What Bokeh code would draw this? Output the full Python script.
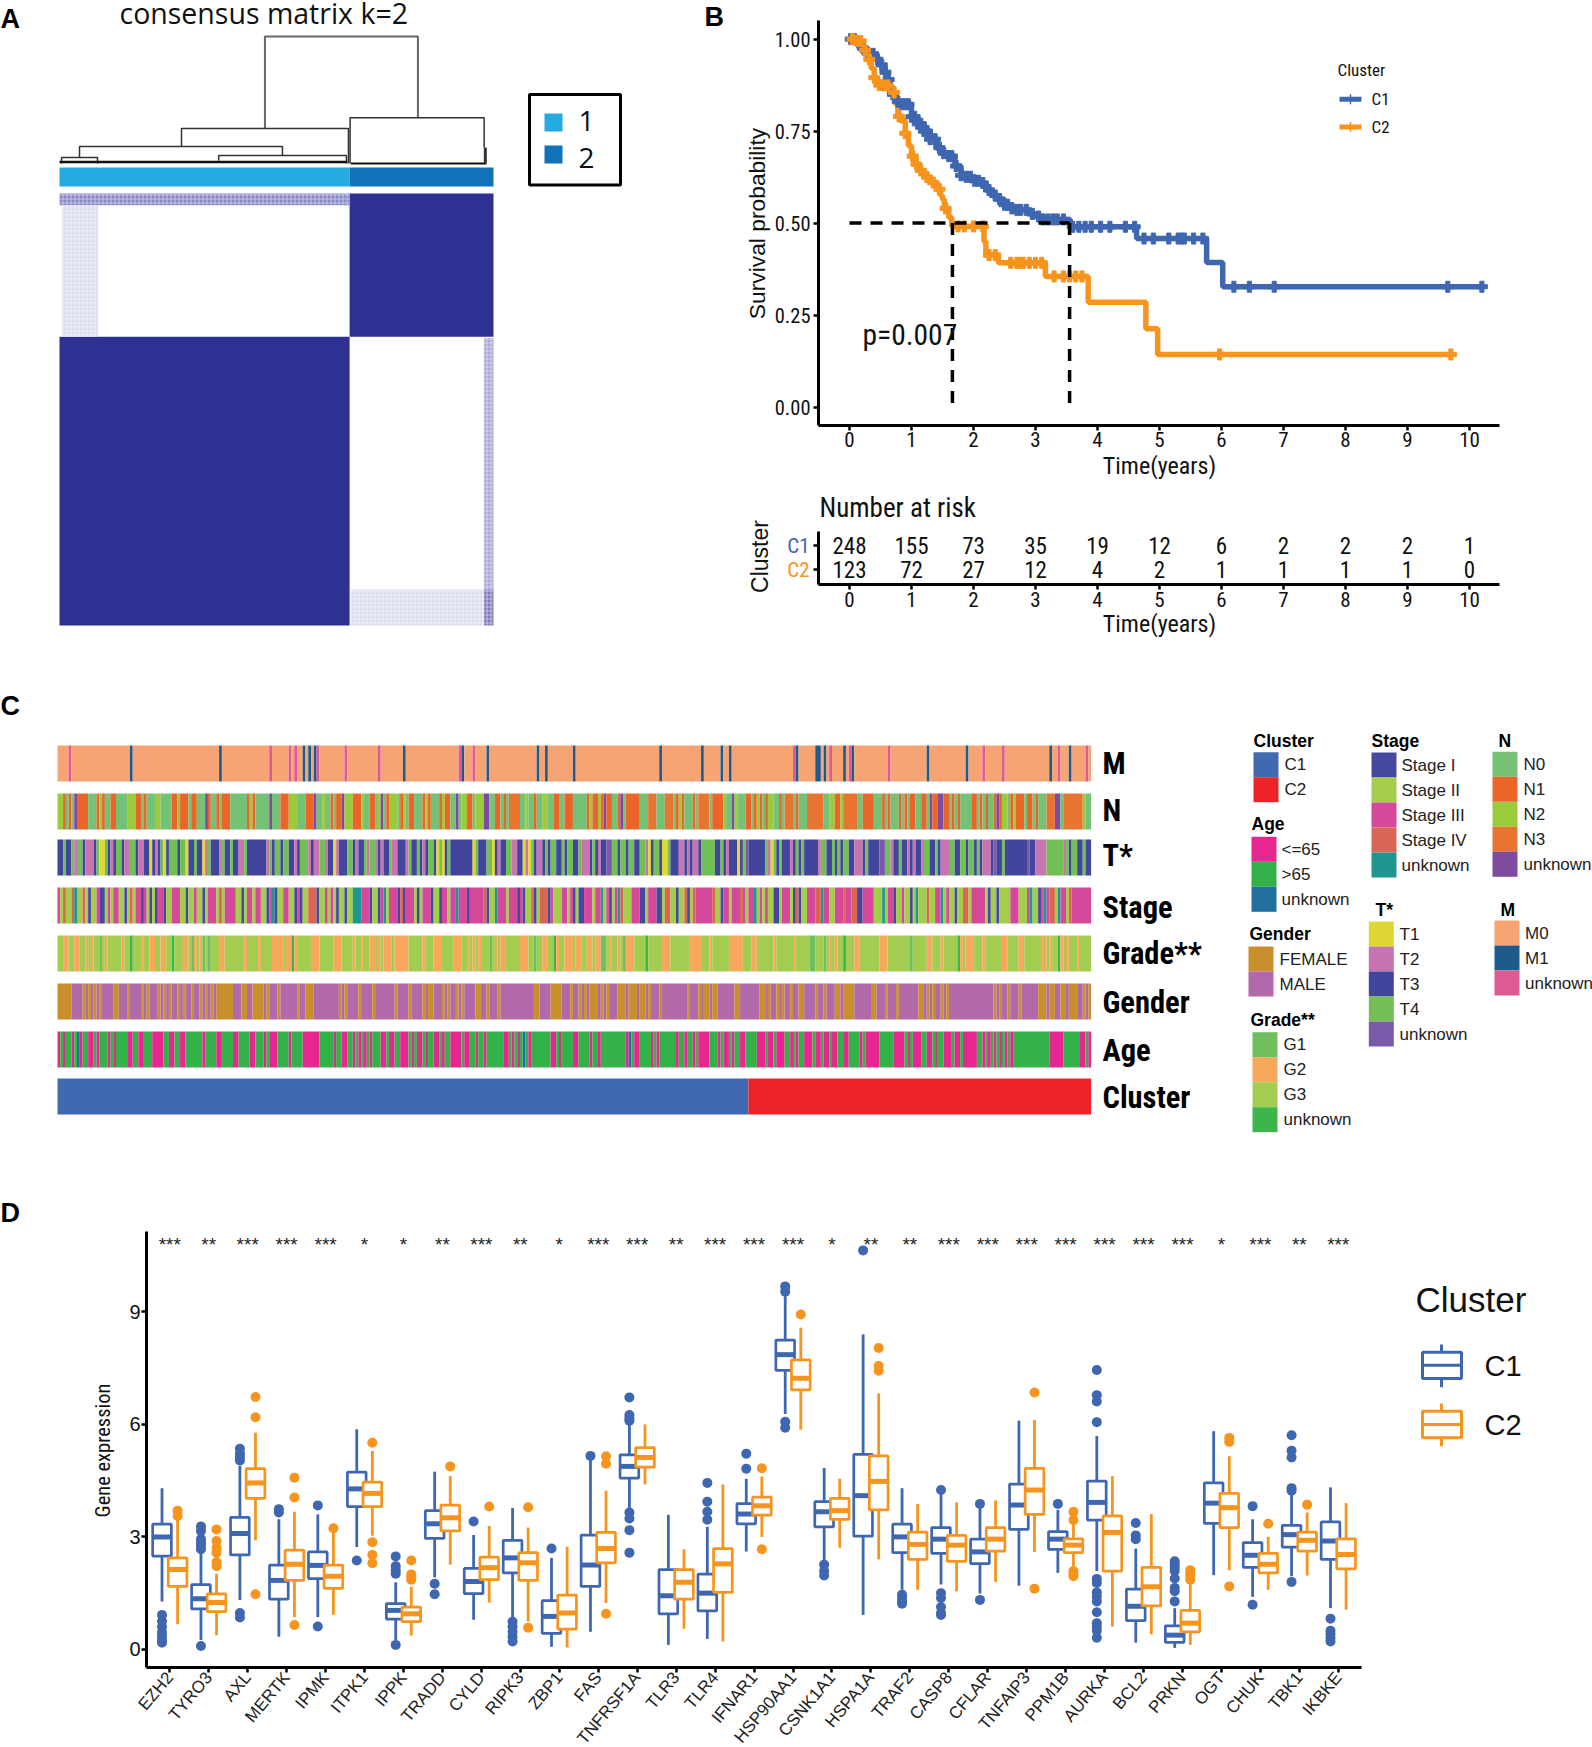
from bokeh.plotting import figure
from bokeh.layouts import column, row
from bokeh.models import Range1d, Label, FixedTicker, NumeralTickFormatter, LinearAxis
from bokeh.embed import file_html
from bokeh.resources import INLINE
import math
import bisect

NARROW = "Roboto Condensed, DejaVu Sans Condensed, Liberation Sans"
SANS = "Liberation Sans"

# ---------- Panel A values ----------
n_c1 = 248
n_c2 = 123
# dendrogram merges: left x, right x (samples), height, left-child height, right-child height
dendro_left = [175.6, 248.4, 104.3, 17.1, 136.1, 1.7]
dendro_right = [306.4, 363.0, 247.0, 190.6, 245.3, 32.5]
dendro_h = [1.00, 0.36, 0.276, 0.134, 0.063, 0.047]
dendro_hl = [0.276, 0.0, 0.134, 0.047, 0.024, 0.0]
dendro_hr = [0.36, 0.126, 0.0, 0.063, 0.0, 0.0]

# ---------- Panel B values ----------
c1_t = [0, .1, .2, .3, .4, .5, .55, .6, .65, .7, .75, .85, 1.0, 1.1, 1.2, 1.3, 1.4, 1.5, 1.6, 1.7, 1.8, 1.85, 2.0, 2.1,
        2.2, 2.3, 2.4, 2.5, 2.6, 2.7, 2.9, 3.0, 3.1, 3.56, 4.63, 5.76, 6.02, 10.2]
c1_s = [1.0, .99, .975, .96, .945, .93, .91, .89, .87, .85, .83, .823, .789, .77, .75, .728, .705, .69, .682, .655, .63,
        .626, .615, .609, .59, .575, .565, .55, .54, .536, .525, .518, .51, .49, .458, .393, .327, .327]
c2_t = [0, .1, .2, .3, .35, .4, .45, .55, .65, .75, .78, .82, .9, .95, 1.0, 1.05, 1.13, 1.2, 1.3, 1.42, 1.47, 1.5, 1.53,
        1.6, 1.65, 2.17, 2.2, 2.22, 2.4, 3.16, 3.85, 4.78, 4.97, 9.7]
c2_s = [1.0, .995, .97, .945, .92, .895, .875, .874, .855, .823, .79, .778, .744, .71, .682, .66, .643, .625, .61, .592,
        .575, .564, .54, .515, .491, .45, .413, .413, .392, .355, .285, .213, .143, .143]
c1_cens = [.02, .08, .15, .22, .3, .38, .45, .52, .58, .63, .7, .78, .85, .9, .95, 1.0, 1.05, 1.1, 1.15, 1.2, 1.25, 1.3,
           1.38, 1.45, 1.52, 1.6, 1.65, 1.72, 1.8, 1.88, 1.95, 2.02, 2.08, 2.15, 2.25, 2.35, 2.42, 2.5, 2.55, 2.62,
           2.7, 2.76, 2.85, 2.95, 3.05, 3.12, 3.2, 3.28, 3.35, 3.45, 3.6, 3.7, 3.8, 3.9, 4.05, 4.2, 4.45, 4.6, 4.75,
           4.9, 5.15, 5.3, 5.35, 5.4, 5.55, 5.7, 6.2, 6.45, 6.85, 9.65, 10.2]
c2_cens = [.05, .12, .18, .25, .32, .4, .48, .55, .62, .72, .8, .9, 1.02, 1.08, 1.15, 1.25, 1.35, 1.45, 1.55, 1.75, 1.85,
           2.0, 2.15, 2.25, 2.35, 2.6, 2.7, 2.75, 2.8, 2.9, 3.0, 3.1, 3.3, 3.45, 3.55, 3.65, 3.75, 5.97, 9.7]
risk_time = list(range(11))
risk_c1 = [248, 155, 73, 35, 19, 12, 6, 2, 2, 2, 1]
risk_c2 = [123, 72, 27, 12, 4, 2, 1, 1, 1, 1, 0]
median_c1 = 3.55
median_c2 = 1.66

# ---------- Panel C values (run lengths, three stretches of samples) ----------
seg_len = [123, 122, 126]
M1_samples = [26, 58, 88, 90, 92, 124, 145, 154, 172, 175, 185, 216, 231, 238, 241, 265, 272, 273, 275, 282, 285, 312,
              326, 356, 363]
M_unk_samples = [4, 76, 83, 85, 93, 103, 115, 144, 149, 264, 277, 284, 298, 332, 339, 359, 369]
N_runs = [
    "l2 o1 g1 o1 g1 u1 o4 g3 o1 l1 o1 g2 o2 g4 l3 o2 g1 o1 g3 l2 g4 o2 l1 o3 g1 o2 g3 u1 o1 g2 o1 g1 o3 g6 o1 l1 o1 g5 u1 g3 o3 l3 g3 o3 u1 g2 l1 g2 o1 g1 o2 u1 l3 o3 l1 g2 o2 g1 l1 u1 g1 o1 l3 g1 o1 g2",
    "o1 l1 g1 o2 g3 o1 l1 o1 g3 o1 l1 o2 g2 u1 g1 l2 o2 g1 l3 u2 g2 o2 g1 o1 g1 r4 g2 l1 g2 o1 g2 l2 g2 o2 g2 o3 g5 o1 l1 o2 l1 o1 u1 o2 g2 o1 u1 g1 o5 g3 r3 g3 r3 g1 o1 l1 o1 g3 o1 g1 r4 g1 o4 l1 g2 u1 l1 g1 l1 o2 g1 o1 g2",
    "g2 o2 g1 o1 l1 o1 g1 o1 l2 g2 o1 g1 r3 g1 o1 g3 r6 g2 l2 o2 l1 r5 g2 o4 g3 o1 g1 o1 g3 o1 g1 o1 g1 o2 g2 o2 g1 u1 o2 u2 o2 g1 o1 g1 o1 g4 o2 g1 o1 g1 o1 g2 o1 u1 o1 l2 g1 o1 l1 o3 g1 o2 g1 o1 g3 r3 u2 g1 r7 l1 g2",
]
T_runs = [
    "b2 g1 b2 g1 p1 g2 b1 p3 b1 g1 y2 g1 b1 p1 b1 g2 b1 p2 g2 b1 p2 b2 y1 b1 p1 b1 g1 y1 b1 g3 b1 g2 y1 b2 g1 b2 y1 p1 g1 b3 p1 g1 b2 g1 b2 p2 g1 b7 p1 g1 b1 g2 b1 g2 b2 p1 b1 g3 p1 b1 p2 g2 p1 b2 y1 p1 b3 g2 b1 p1 b2 g1 p1 g2 p1 b1 p1 b2 g1 p2 b2 p1 g1",
    "b2 p1 g1 b2 g1 b1 p1 b1 g2 b1 y1 g1 y1 b1 g1 b8 y1 g1 b3 g2 y1 b1 p1 b2 g2 p2 b2 y1 p1 y1 g1 b1 p2 b1 g1 b1 g2 b2 g1 b1 g2 b2 g1 p3 b1 g1 b1 p1 b2 u2 g2 b1 g2 b1 g2 b2 g2 p1 y1 b1 g2 b1 y2 g1 b3 p2 b1 p1 b1 p2 b1 g5 b2 g1 b1 p1 b3 y1 b1 g1 p2 b4",
    "b1 g1 u1 b6 g1 p1 y1 g1 b1 g1 b3 p1 b1 g1 b1 g1 b5 p1 g2 b2 g1 b1 g1 b1 g2 b2 p3 b1 g1 b4 u2 g2 p1 b2 g1 b2 p1 b1 p1 b2 p1 g2 b2 g1 b1 p3 g2 b2 g2 b1 g2 b1 g1 b1 p3 b1 u1 b2 g1 b8 u1 b2 p4 g6 p1 g1 b1 g2 b2 g1 b1",
]
Stage_runs = [
    "m1 l1 c1 l2 c1 t1 l2 c1 l1 i1 l2 m1 i2 l1 m1 l1 m2 l2 i1 l1 c1 l1 m2 i1 m1 l1 i1 l1 i1 m2 i1 l2 m3 l2 i1 l2 m1 l2 i1 l1 m3 l1 c1 l1 m4 l2 i1 l1 m2 l1 m2 l2 i1 m1 t1 i1 l2 m2 l2 i1 m1 i1 l2 c3 i1 l2 m1 l1 m1 l1 i1 l2 i1 l2 t3 m3 i1 l2 i1 m1 t1 l1 m3 i1 m1 c1 i1 c1",
    "c1 i1 m3 l1 i1 l1 m3 i1 l2 i1 m2 l1 m2 t1 m3 i1 m5 c1 i1 l2 t1 m3 l1 m3 i1 m1 i1 l2 c1 i1 l1 c3 i1 m1 l3 m2 l1 m1 i1 l1 i2 m3 l1 m2 t1 l1 m1 i1 l1 m1 t1 c1 l3 m3 i2 l1 m3 i2 l1 c2 l2 i1 l2 c1 i1 l1 c1 m6 c1 l2 i1 m2 l1 m3 l1 m2 t1 c1",
    "c1 m1 l1 m2 t1 l1 m1 l1 m1 l2 i2 l1 m3 l1 i1 c1 i1 l2 m3 c2 t1 m2 l2 m3 c1 m2 c2 i2 m4 l3 t1 l1 m2 i1 l2 m1 l2 i1 l1 t1 l3 c1 l2 m2 t1 l1 m1 l2 i1 l2 c2 l1 m5 l1 i1 l2 i1 l2 l2 m3 l3 m1 t1 l2 i1 m1 t1 m1 c2 l1 t1 m2 l1 c1 m8",
]
Grade_runs = [
    "d2 b2 d2 b2 d2 b1 d1 b1 d2 a1 d1 b1 d5 b1 d2 u1 d3 b1 d2 b2 d2 b2 d2 u1 d3 b2 d1 a1 b1 d1 b1 a1 d1 a1 d3 b2 d7 b1 d4 b1 d4 b4 d1 b2 u1 b1 d5 b3 d5 b3 d4 b1 d2 b1 d2 b2 d1 b1 d1 b3 d1 b6",
    "b3 d5 b1 d3 b3 d4 b3 d2 b1 d1 b1 d1 b1 d3 a1 d1 b1 d1 b2 d5 b3 d2 a1 d2 b2 d2 u1 b1 d2 b3 d1 b2 d2 b2 d1 b2 a2 d1 b1 d2 b1 d1 a1 b3 d4 u1 d5 b3 d7 b4 d3 b1 d5 d1 b5 d3 b2 d1",
    "b1 d3 b2 d6 b1 d6 b1 d5 a2 d3 a1 d1 b1 d1 b1 d2 u1 d3 b2 d7 b3 d8 a1 d5 b2 d3 b1 d5 u1 b1 d1 b2 b1 d3 b1 d6 b2 d4 b2 d6 b2 d1 b1 d2 u1 b1 d1 b1 d3 b1 d4",
]
Gender_runs = [
    "f5 m4 f1 m1 f1 m1 f1 m1 f1 m4 f2 m3 f1 m4 f1 m1 f1 m3 f1 m1 f1 m1 f1 m2 f1 m1 f1 m2 f1 m2 f1 m1 f1 m1 f1 m1 f6 m3 f2 m2 f4 m1 f1 m3 f1 m6 f1 m2 f3 m9 f1 m1 f1 m4 f1 m4 f1 m7 f1 m4 f1",
    "m3 f1 m4 f1 m1 f2 m3 f1 m1 f1 m2 f1 m1 f1 m4 f2 m2 f1 m3 f1 m12 f2 m4 f4 m3 f1 m2 f1 m1 f1 m1 f3 m1 f1 m1 f1 m3 f3 m1 f3 m1 f2 m1 f1 m3 f1 m9 f1 m3 f1 m1 f2 m1 f2 m6 f2 m7 f1",
    "m7 f2 m1 f1 m2 f1 m1 f1 m2 f1 m2 f2 m4 f1 m2 f1 m3 f2 m1 f4 m6 f2 m3 f1 m3 f1 m7 f2 m1 f1 m1 f1 m2 f1 m1 f1 m16 f1 m1 f1 m2 f1 m3 f1 m6 f3 m1 f2 m2 f2 m1 f3 m2 f1 m1 f1",
]
Age_runs = [
    "p1 g1 p1 g2 p1 g1 u1 p1 g2 p2 g1 p1 g3 p1 g1 p1 g4 p2 g2 p2 g3 p4 g2 p2 g2 p2 g6 p1 g4 p2 g4 p2 g4 p2 g3 p1 g1 p3 g4 p1 g4 p6 g5 p1 g2 p2 g2 p1 g1 p1 g1 p1 g1 p1 g3 p2 g1 p2 g2 p3 g1",
    "p3 g1 p1 g1 p2 g1 p1 g2 p2 g1 p1 g2 p4 g1 p2 g2 p1 g2 p1 g6 p2 g1 p1 g1 p1 g1 u1 g1 p1 g7 p2 g1 p1 g4 p2 g4 p1 g2 p1 g9 p1 u1 g1 p2 g4 p1 g1 p1 g6 p1 g2 p1 g2 p1 g1 p4 g3 p1 g1 p2 g1 p1 g2 p2 g4 p2",
    "p2 g4 p3 g1 p2 g1 p3 g2 p1 g1 p1 g2 p3 g1 p2 g1 p2 g1 p2 g2 p2 g4 p1 g1 p5 g5 p4 g1 p1 g1 p3 g2 p2 g1 p1 g2 p3 g1 p2 g1 p5 g2 p1 g1 p1 g1 p1 g1 p1 g1 p1 g1 p1 g13 p5 g6 p2 g1 p1",
]
col_M = {"M0": "#f7a475", "M1": "#1e5a8a", "unknown": "#dd5a93"}
col_N = {"g": "#75c176", "o": "#e96628", "l": "#9bca3c", "r": "#e87431", "u": "#7d4ca0"}
col_T = {"y": "#dfd832", "p": "#c874ae", "b": "#41459c", "g": "#72c055", "u": "#7a5aa6"}
col_S = {"i": "#46489e", "l": "#a4cd4c", "m": "#d5499a", "c": "#d96655", "t": "#1f9690"}
col_G = {"a": "#70bf5e", "b": "#f7a85c", "d": "#a3cd50", "u": "#3db54a"}
col_X = {"f": "#c98f2c", "m": "#b169a9"}
col_A = {"p": "#e8268f", "g": "#33b24a", "u": "#21709f"}
col_C = {"C1": "#4169b0", "C2": "#ee2328"}

# ---------- Panel D values ----------
genes = ["EZH2", "TYRO3", "AXL", "MERTK", "IPMK", "ITPK1", "IPPK", "TRADD", "CYLD", "RIPK3", "ZBP1", "FAS", "TNFRSF1A",
         "TLR3", "TLR4", "IFNAR1", "HSP90AA1", "CSNK1A1", "HSPA1A", "TRAF2", "CASP8", "CFLAR", "TNFAIP3", "PPM1B",
         "AURKA", "BCL2", "PRKN", "OGT", "CHUK", "TBK1", "IKBKE"]
signif = ["***", "**", "***", "***", "***", "*", "*", "**", "***", "**", "*", "***", "***", "**", "***", "***", "***",
          "*", "**", "**", "***", "***", "***", "***", "***", "***", "***", "*", "***", "**", "***"]
c1_q1 = [2.49, 1.08, 2.52, 1.34, 1.89, 3.81, .81, 2.96, 1.49, 2.04, .43, 1.68, 4.57, .95, 1.03, 3.35, 7.44, 3.27, 3.02, 2.58, 2.56, 2.29, 3.2, 2.67, 3.45, .77, .19, 3.36, 2.19, 2.73, 2.4]
c1_md = [3.0, 1.35, 3.09, 1.84, 2.24, 4.28, 1.04, 3.35, 1.81, 2.44, .88, 2.25, 4.88, 1.43, 1.5, 3.61, 7.86, 3.67, 4.1, 3.0, 2.94, 2.6, 3.85, 2.94, 3.92, 1.15, .38, 3.9, 2.51, 3.06, 2.89]
c1_q3 = [3.34, 1.73, 3.52, 2.25, 2.6, 4.73, 1.22, 3.7, 2.16, 2.91, 1.3, 3.05, 5.19, 2.13, 2.01, 3.89, 8.25, 3.94, 5.2, 3.34, 3.25, 2.94, 4.41, 3.14, 4.49, 1.61, .63, 4.44, 2.85, 3.31, 3.4]
c1_lo = [1.28, .25, 1.32, .34, .86, 2.73, .25, 1.92, .79, .83, .07, .47, 3.67, .12, .28, 2.61, 6.28, 2.35, .92, 1.59, 1.73, 1.49, 1.7, 2.04, 2.09, .18, .04, 1.98, 1.4, 1.95, 1.1]
c1_hi = [4.3, 2.71, 4.9, 3.47, 3.6, 5.87, 1.79, 4.74, 3.05, 3.77, 2.44, 5.13, 6.03, 3.59, 3.27, 4.55, 9.45, 4.84, 8.4, 4.3, 4.19, 3.79, 6.1, 3.72, 5.69, 2.69, 1.1, 5.82, 3.47, 4.14, 4.32]
c1_out = [[.92, .75, .6, .45, .35, .25, .18], [3.28, 3.16, 2.94, 2.85, 2.76, 2.67, .09], [5.35, 5.22, 5.13, 5.04, .97, .85],
          [3.74, 3.65], [3.84, .61], [2.37], [2.48, 2.22, 2.11, 2.02, .12], [1.75, 1.47], [3.41],
          [.74, .61, .47, .34, .21], [2.69], [5.16], [6.72, 6.25, 6.16, 6.1, 3.65, 3.49, 3.18, 2.58], [],
          [4.44, 3.94, 3.67, 3.46], [5.22, 4.82], [9.68, 9.54, 6.07, 5.91], [2.26, 2.09, 1.97], [10.64],
          [1.46, 1.37, 1.28, 1.22], [4.25, 1.5, 1.37, 1.13, .97, .92], [3.88, 1.32], [], [3.88],
          [7.45, 6.78, 6.61, 6.06, 1.88, 1.77, 1.52, 1.41, 1.28, .99, .7, .61, .5, .31], [3.37, 3.04, 2.94],
          [2.35, 2.26, 2.18, 2.09, 1.89, 1.64, 1.55, 1.28], [], [3.82, 1.19], [5.71, 5.3, 5.12, 4.3, 4.23, 1.8],
          [.82, .5, .41, .31, .21]]
c2_q1 = [1.68, 1.01, 4.03, 1.84, 1.63, 3.81, .74, 3.16, 1.86, 1.84, .54, 2.31, 4.86, 1.34, 1.52, 3.58, 6.92, 3.47, 3.72, 2.4, 2.35, 2.62, 3.6, 2.58, 2.09, 1.16, .47, 3.25, 2.04, 2.62, 2.15]
c2_md = [2.13, 1.25, 4.44, 2.27, 1.95, 4.16, .95, 3.51, 2.18, 2.31, .97, 2.69, 5.12, 1.79, 2.28, 3.83, 7.23, 3.7, 4.48, 2.8, 2.78, 2.94, 4.25, 2.78, 3.12, 1.67, .7, 3.78, 2.27, 2.91, 2.53]
c2_q3 = [2.44, 1.48, 4.82, 2.65, 2.25, 4.46, 1.13, 3.85, 2.46, 2.58, 1.45, 3.12, 5.38, 2.13, 2.69, 4.06, 7.72, 4.03, 5.16, 3.13, 3.04, 3.25, 4.83, 2.95, 3.56, 2.19, 1.04, 4.16, 2.56, 3.13, 2.95]
c2_lo = [.67, .38, 2.91, .86, .92, 3.03, .37, 2.26, 1.25, .74, .05, 1.24, 4.4, .55, .21, 3.0, 5.86, 2.71, 2.4, 1.59, 1.55, 1.8, 2.6, 2.13, .61, .4, .12, 2.11, 1.59, 1.97, 1.06]
c2_hi = [3.47, 2.02, 5.78, 3.67, 3.16, 5.29, 1.67, 4.62, 3.29, 3.25, 2.74, 4.23, 6.0, 2.67, 4.4, 4.61, 8.58, 4.55, 6.83, 3.88, 3.92, 3.97, 6.12, 3.34, 4.62, 3.61, 1.79, 5.15, 3.0, 3.65, 3.9]
c2_out = [[3.7, 3.56], [3.2, 2.89, 2.71, 2.58, 2.33, 2.22], [6.73, 6.19, 1.47], [4.58, 4.05, .65], [3.23],
          [5.51, 2.86, 2.52, 2.3], [2.37, 2.0, 1.93, 1.86], [4.88], [3.81], [3.79, .58], [], [5.15, 4.95, .95], [], [],
          [], [4.83, 2.67], [8.93], [], [8.04, 7.56, 7.43], [], [], [], [6.85, 1.62], [3.67, 3.45, 2.09, 2.02, 1.95], [],
          [], [2.11, 2.02, 1.95, 1.86], [5.64, 5.53, 1.68], [3.35], [3.86], []]

BLUE = "#3f67b1"
ORANGE = "#f7941d"


class Panel:
    """A figure at (left, top) in page pixels. (fl, ft, fr, fb) are pixel positions whose data values are xr and yr;
    the figure's frame fills the whole figure and the ranges are extended to match."""

    def __init__(self, left, top, width, height, fl, ft, fr, fb, xr, yr):
        self.fl, self.ft, self.fr, self.fb, self.xr, self.yr = fl, ft, fr, fb, xr, yr
        self.fig = figure(width=width, height=height, output_backend="svg", toolbar_location=None,
                          x_range=Range1d(self.X(left), self.X(left + width)),
                          y_range=Range1d(self.Y(top + height), self.Y(top)),
                          x_axis_type=None, y_axis_type=None,
                          min_border_left=0, min_border_right=0, min_border_top=0, min_border_bottom=0,
                          outline_line_color=None, frame_align=False)
        self.fig.grid.visible = False

    def X(self, px):
        return self.xr[0] + (px - self.fl) * (self.xr[1] - self.xr[0]) / (self.fr - self.fl)

    def Y(self, py):
        return self.yr[1] + (py - self.ft) * (self.yr[0] - self.yr[1]) / (self.fb - self.ft)

    def text(self, px, py, s, size, font=SANS, style="normal", color="#111111", align="left", base="middle", angle=0):
        self.fig.add_layout(Label(x=self.X(px), y=self.Y(py), text=s, text_font=font, text_font_size=f"{size}px",
                                  text_font_style=style, text_color=color, text_align=align, text_baseline=base,
                                  angle=math.radians(angle)))

    def box(self, x0, y0, x1, y1, **kw):
        self.fig.quad(left=[self.X(x0)], right=[self.X(x1)], top=[self.Y(y0)], bottom=[self.Y(y1)], **kw)


def style_axis(ax, size, font, standoff=2):
    ax.axis_line_width = 3
    ax.axis_line_color = "black"
    ax.major_tick_line_width = 2.5
    ax.major_tick_line_color = "black"
    ax.major_tick_in = 0
    ax.major_tick_out = 5
    ax.minor_tick_line_color = None
    ax.major_label_text_font = font
    ax.major_label_text_font_size = f"{size}px"
    ax.major_label_text_color = "#111111"
    ax.major_label_standoff = standoff


# ===== Panel A =====
n_all = n_c1 + n_c2
sx = (493 - 59) / n_all
sy = (625 - 193) / n_all
A = Panel(0, 0, 690, 650, 0, 0, 690, 650,
          ((0 - 59) / sx, (690 - 59) / sx), ((650 - 193) / sy, (0 - 193) / sy))
pa = A.fig
A.text(119, 12, "consensus matrix k=2", 28.5, font="Open Sans")
A.text(0, 18, "A", 27, style="bold", color="black")
DARK = "#2e3192"
pa.quad(left=[0, n_c1], right=[n_c1, n_all], top=[n_c2, 0], bottom=[n_all, n_c2], fill_color=DARK, line_color=None)


def faint(l, r, t, b, color):
    pa.quad(left=[l], right=[r], top=[t], bottom=[b], fill_color=color, line_color=None,
            hatch_pattern="cross", hatch_color="white", hatch_alpha=0.45, hatch_scale=4, hatch_weight=1)


faint(0, n_c1, 0, 10, "#8a8ac8")
faint(2, 33, 10, n_c2, "#dcdcef")
faint(n_c1 + 1, n_all - 8, n_all - 31, n_all, "#dcdcef")
faint(n_all - 8, n_all, n_c2 + 1, n_all - 31, "#a9a9d8")
faint(n_all - 8, n_all, n_all - 31, n_all, "#7d7dbe")
pa.quad(left=[0, n_c1], right=[n_c1, n_all], top=[A.Y(167)] * 2, bottom=[A.Y(186)] * 2,
        fill_color=["#25aae1", "#1072b9"], line_color=None)


def h2y(h):
    return A.Y(163 - 127 * h)


for l, r, h, hl, hr in zip(dendro_left, dendro_right, dendro_h, dendro_hl, dendro_hr):
    c = "#666666" if h > .5 else "#333333"
    pa.line([l, l, r, r], [h2y(hl), h2y(h), h2y(h), h2y(hr)], line_color=c, line_width=2 if h > .5 else 1.5)
pa.line([0, n_c1 - 2], [h2y(0.012)] * 2, line_color="#111111", line_width=2.5)
pa.line([n_c1 + 1, n_all - 6], [h2y(0.0)] * 2, line_color="#111111", line_width=2)
pa.line([n_all - 7, n_all - 7], [h2y(0), h2y(.126)], line_color="#333333", line_width=3)
A.box(529, 94, 620, 184.5, fill_color=None, line_color="black", line_width=3)
A.box(544, 113, 562, 131, fill_color="#25aae1", line_color=None)
A.box(544, 145, 562, 163, fill_color="#1072b9", line_color=None)
A.text(586, 120, "1", 28, font="Open Sans", align="center")
A.text(586, 157, "2", 28, font="Open Sans", align="center")

# ===== Panel B =====
ux, uy = 62.0, 368.0
x_b = ((818 - 849) / ux, (1592 - 849) / ux)
B = Panel(690, 0, 902, 490, 818, 20, 1592, 425, x_b, ((38.6 - 425) / uy + 1, (38.6 - 20) / uy + 1))
pb = B.fig
xa = LinearAxis(ticker=FixedTicker(ticks=risk_time), bounds=(x_b[0], 10.48), fixed_location=B.Y(425))
ya = LinearAxis(ticker=FixedTicker(ticks=[0, .25, .5, .75, 1.0]), formatter=NumeralTickFormatter(format="0.00"),
                bounds=(B.Y(425), B.Y(20)), fixed_location=x_b[0])
style_axis(xa, 21, NARROW, standoff=1)
style_axis(ya, 20.5, NARROW, standoff=3)
pb.add_layout(xa, "below")
pb.add_layout(ya, "left")
B.text(704, 16, "B", 27, style="bold", color="black")
B.text(1159, 465, "Time(years)", 24, font=NARROW, align="center")
B.text(756, 223, "Survival probability", 22.8, align="center", angle=90)
B.text(862, 334, "p=0.007", 29.5, font=NARROW)


def surv_at(ts, ss, t):
    return ss[max(bisect.bisect_right(ts, t) - 1, 0)]


pb.step(c1_t, c1_s, mode="after", line_color=BLUE, line_width=5.5)
pb.step(c2_t, c2_s, mode="after", line_color=ORANGE, line_width=5.5)
pb.scatter(c1_cens, [surv_at(c1_t, c1_s, t) for t in c1_cens], marker="plus", size=11, color=BLUE, line_width=1)
pb.scatter(c2_cens, [surv_at(c2_t, c2_s, t) for t in c2_cens], marker="plus", size=11, color=ORANGE, line_width=1)
pb.line([0, median_c1], [.5, .5], line_color="black", line_width=3.5, line_dash="12 9")
pb.line([median_c2, median_c2], [.5, 0], line_color="black", line_width=3.5, line_dash="12 9")
pb.line([median_c1, median_c1], [.5, 0], line_color="black", line_width=3.5, line_dash="12 9")
B.text(1337, 69.5, "Cluster", 17, font=NARROW)
for py, col, lab in [(98.7, BLUE, "C1"), (126.5, ORANGE, "C2")]:
    pb.segment([B.X(1339)], [B.Y(py)], [B.X(1361)], [B.Y(py)], line_color=col, line_width=5)
    pb.segment([B.X(1350)], [B.Y(py - 5)], [B.X(1350)], [B.Y(py + 5)], line_color=col, line_width=1.5)
    B.text(1371, py, lab, 17, font=NARROW)

# risk table
R = Panel(690, 490, 902, 160, 818, 531, 1592, 584, x_b, ((545 - 584) / 24 + 2, (545 - 531) / 24 + 2))
pr = R.fig
xa2 = LinearAxis(ticker=FixedTicker(ticks=risk_time), bounds=(x_b[0], 10.48), fixed_location=R.Y(584))
ya2 = LinearAxis(ticker=FixedTicker(ticks=[1, 2]), major_label_overrides={1: " ", 2: " "},
                 bounds=(R.Y(584), R.Y(531)), fixed_location=x_b[0])
style_axis(xa2, 21, NARROW, standoff=2)
style_axis(ya2, 21, NARROW)
pr.add_layout(xa2, "below")
pr.add_layout(ya2, "left")
pr.text(risk_time, [2] * 11, text=[str(v) for v in risk_c1], text_font={"value": NARROW}, text_font_size="23px",
        text_align="center", text_baseline="middle", text_color="#111111")
pr.text(risk_time, [1] * 11, text=[str(v) for v in risk_c2], text_font={"value": NARROW}, text_font_size="23px",
        text_align="center", text_baseline="middle", text_color="#111111")
R.text(819, 507, "Number at risk", 27, font=NARROW)
R.text(1159, 623, "Time(years)", 24, font=NARROW, align="center")
R.text(759, 556, "Cluster", 23, align="center", angle=90)
R.text(809, 545, "C1", 21, font=NARROW, color=BLUE, align="right")
R.text(809, 569, "C2", 21, font=NARROW, color=ORANGE, align="right")

# ===== Panel C =====
ux_c = (1090.6 - 57) / n_all
C = Panel(0, 650, 1592, 540, 0, 650, 1592, 1190,
          ((0 - 57) / ux_c, (1592 - 57) / ux_c), (1190, 650))
pc = C.fig
C.text(0, 705, "C", 27, style="bold", color="black")


def expand(runs):
    out = []
    for n, seg in zip(seg_len, runs):
        cells = []
        for tok in seg.split():
            cells += [tok[0]] * int(tok[1:])
        cells = (cells + [cells[-1]] * n)[:n]
        out += cells
    return out


def draw_track(cells, colors, top, bottom):
    l, r, col = [], [], []
    start = 0
    for i in range(1, len(cells) + 1):
        if i == len(cells) or cells[i] != cells[start]:
            l.append(start)
            r.append(i)
            col.append(colors[cells[start]])
            start = i
    pc.quad(left=l, right=r, top=[top] * len(l), bottom=[bottom] * len(l), fill_color=col, line_color=None)


m_cells = ["M0"] * n_all
for s in M1_samples:
    m_cells[s] = "M1"
for s in M_unk_samples:
    m_cells[s] = "unknown"
draw_track(m_cells, col_M, 745, 781)
draw_track(expand(N_runs), col_N, 793, 829)
draw_track(expand(T_runs), col_T, 839, 875)
draw_track(expand(Stage_runs), col_S, 887, 923)
draw_track(expand(Grade_runs), col_G, 935, 971)
draw_track(expand(Gender_runs), col_X, 983, 1019)
draw_track(expand(Age_runs), col_A, 1031, 1067)
draw_track(["C1"] * n_c1 + ["C2"] * n_c2, col_C, 1078, 1114)

for lab, py in [("M", 763), ("N", 810), ("T*", 855), ("Stage", 907), ("Grade**", 953), ("Gender", 1002), ("Age", 1050),
                ("Cluster", 1097)]:
    C.text(1102, py, lab, 30.5, font=NARROW, style="bold", color="black")


def legend(title, tx, ty, sx0, sy0, lx, labels, colors):
    C.text(tx, ty, title, 17.5, style="bold", color="black")
    for i, (lab, col) in enumerate(zip(labels, colors)):
        C.box(sx0, sy0 + 25 * i, sx0 + 25, sy0 + 25 * (i + 1), fill_color=col, line_color=None)
        C.text(lx, sy0 + 25 * i + 12.5, lab, 17, color="#222222")


legend("Cluster", 1253, 740, 1253, 751.7, 1284, ["C1", "C2"], [col_C["C1"], col_C["C2"]])
legend("Age", 1251, 823, 1251, 836.3, 1281, ["<=65", ">65", "unknown"], [col_A[k] for k in "pgu"])
legend("Gender", 1249, 933, 1248, 946, 1279, ["FEMALE", "MALE"], [col_X[k] for k in "fm"])
legend("Grade**", 1250, 1019, 1252, 1031.7, 1283, ["G1", "G2", "G3", "unknown"], [col_G[k] for k in "abdu"])
legend("Stage", 1371, 740, 1371, 752, 1401, ["Stage I", "Stage II", "Stage III", "Stage IV", "unknown"],
       [col_S[k] for k in "ilmct"])
legend("N", 1498, 740, 1492, 751.3, 1523, ["N0", "N1", "N2", "N3", "unknown"], [col_N[k] for k in "golru"])
legend("T*", 1375, 909, 1368.3, 921, 1399, ["T1", "T2", "T3", "T4", "unknown"], [col_T[k] for k in "ypbgu"])
legend("M", 1500, 909, 1494, 920, 1524.5, ["M0", "M1", "unknown"], [col_M[k] for k in ["M0", "M1", "unknown"]])

# ===== Panel D =====
ug = 38.95
uv = 37.5
x_d = (1 + (146 - 169.3) / ug, 1 + (1592 - 169.3) / ug)
D = Panel(0, 1190, 1592, 557, 146, 1231, 1592, 1667, x_d, ((1648.9 - 1667) / uv, (1648.9 - 1231) / uv))
pd_ = D.fig
pos = list(range(1, len(genes) + 1))
xa3 = LinearAxis(ticker=FixedTicker(ticks=pos), bounds=(x_d[0], 31.6), fixed_location=D.Y(1667),
                 major_label_overrides={i: g for i, g in zip(pos, genes)},
                 major_label_orientation=math.radians(50))
ya3 = LinearAxis(ticker=FixedTicker(ticks=[0, 3, 6, 9]), bounds=(D.Y(1667), D.Y(1231)), fixed_location=x_d[0])
style_axis(xa3, 17, SANS, standoff=2)
style_axis(ya3, 20, SANS, standoff=1)
xa3.major_label_text_color = "#222222"
pd_.add_layout(xa3, "below")
pd_.add_layout(ya3, "left")
D.text(0, 1212, "D", 27, style="bold", color="black")
D.text(102, 1450, "Gene expression", 20.5, font=NARROW, align="center", angle=90)
pd_.text(pos, [10.87] * len(pos), text=signif, text_font={"value": SANS}, text_font_size="19px", text_align="center",
         text_baseline="top", text_color="#222222", y_offset=-8)


def boxes(off, col, q1, md, q3, lo, hi, out):
    xs = [p + off for p in pos]
    w = 0.48
    pd_.segment(xs, lo, xs, q1, line_color=col, line_width=2.8)
    pd_.segment(xs, q3, xs, hi, line_color=col, line_width=2.8)
    pd_.quad(left=[x - w / 2 for x in xs], right=[x + w / 2 for x in xs], top=q3, bottom=q1, fill_color="white",
             line_color=col, line_width=2.7)
    pd_.segment([x - w / 2 for x in xs], md, [x + w / 2 for x in xs], md, line_color=col, line_width=5)
    ox = [x for x, o in zip(xs, out) for _ in o]
    oy = [v for o in out for v in o]
    pd_.scatter(ox, oy, size=10, color=col, line_color=None)


boxes(-0.2, BLUE, c1_q1, c1_md, c1_q3, c1_lo, c1_hi, c1_out)
boxes(0.2, ORANGE, c2_q1, c2_md, c2_q3, c2_lo, c2_hi, c2_out)

D.text(1415, 1299, "Cluster", 35, color="#111111")
for col, lab, y0, y1, w0, w1, ly in [(BLUE, "C1", 1351.7, 1378, 1344, 1386.7, 1365),
                                     (ORANGE, "C2", 1410.7, 1437.3, 1403, 1445.7, 1424)]:
    pd_.segment([D.X(1441)], [D.Y(w0)], [D.X(1441)], [D.Y(w1)], line_color=col, line_width=3)
    D.box(1422, y0, 1461, y1, fill_color="white", line_color=col, line_width=3)
    pd_.segment([D.X(1422)], [D.Y((y0 + y1) / 2)], [D.X(1461)], [D.Y((y0 + y1) / 2)], line_color=col, line_width=3)
    D.text(1484, ly, lab, 29, color="#111111")

root = column(row(A.fig, column(B.fig, R.fig, spacing=0), spacing=0), C.fig, D.fig, spacing=0,
              styles={"position": "absolute", "left": "0px", "top": "0px"})
open("out.html", "w").write(file_html(root, INLINE))
